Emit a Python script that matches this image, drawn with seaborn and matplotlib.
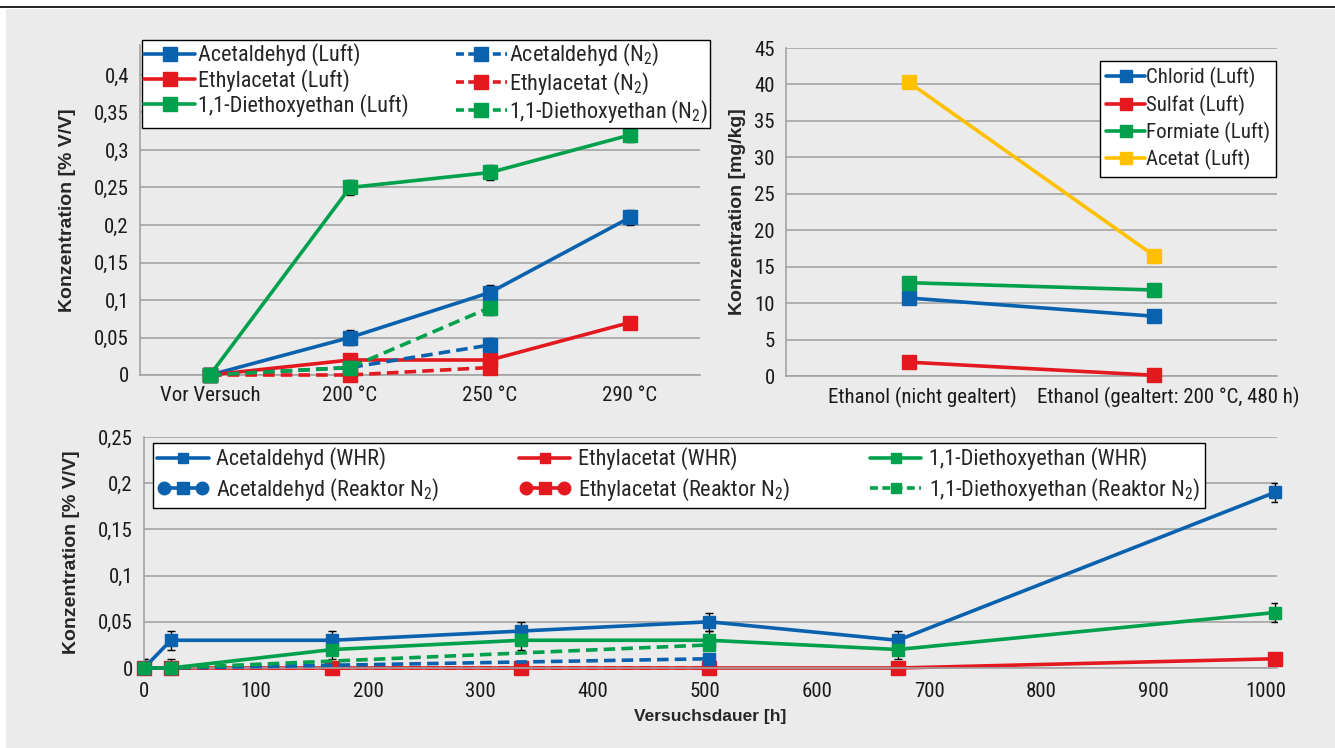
import numpy as np
import seaborn as sns
import matplotlib.pyplot as plt
from matplotlib import font_manager as fm
from matplotlib.lines import Line2D
from matplotlib.patches import Rectangle
from matplotlib.legend_handler import HandlerLine2D, HandlerTuple
from matplotlib.ticker import FuncFormatter, MultipleLocator
from matplotlib.transforms import ScaledTranslation

# --- top left: concentrations per temperature stage ---
stages = ['Vor Versuch', '200 °C', '250 °C', '290 °C']
acet_luft = [0, 0.05, 0.11, 0.21]
ethyl_luft = [0, 0.02, 0.02, 0.07]
diet_luft = [0, 0.25, 0.27, 0.32]
acet_n2 = [0, 0.01, 0.04]
ethyl_n2 = [0, 0.0, 0.01]
diet_n2 = [0, 0.01, 0.09]
err_acet_luft = [0.008, 0.01, 0.01, 0.01]
err_ethyl_luft = [0, 0, 0.01, 0]
err_diet_luft = [0, 0.01, 0.01, 0.01]
err_acet_n2 = [0, 0, 0.01]
err_diet_n2 = [0, 0, 0.01]

# --- top right: anions ---
samples = ['Ethanol (nicht gealtert)', 'Ethanol (gealtert: 200 °C, 480 h)']
chlorid = [10.7, 8.2]
sulfat = [1.9, 0.1]
formiate = [12.8, 11.8]
acetat = [40.3, 16.5]

# --- bottom: time series ---
hours = [0, 24, 168, 336, 504, 672, 1008]
acet_whr = [0, 0.03, 0.03, 0.04, 0.05, 0.03, 0.19]
ethyl_whr = [0, 0, 0, 0, 0, 0, 0.01]
diet_whr = [0, 0, 0.02, 0.03, 0.03, 0.02, 0.06]
err_acet_whr = [0.01, 0.01, 0.01, 0.01, 0.01, 0.01, 0.01]
err_ethyl_whr = [0.01, 0.01, 0, 0, 0, 0, 0]
err_diet_whr = [0, 0, 0.01, 0.01, 0.01, 0.01, 0.01]
hours_n2 = [0, 24, 504]
acet_rn2 = [0, 0, 0.01]
ethyl_rn2 = [0, 0, 0]
diet_rn2 = [0, 0, 0.025]

BLUE = '#0A62AE'
RED = '#E3191F'
GREEN = '#00A04C'
YELLOW = '#FFC000'
BG = '#EBEBEB'
GRID = '#A3A3A3'

sns.set_theme(style='whitegrid')

# pick a narrow font if one is there
have = {f.name for f in fm.fontManager.ttflist}
narrow = [n for n in ['Liberation Sans Narrow', 'Roboto Condensed', 'Archivo Narrow',
                      'Barlow Semi Condensed'] if n in have]
NARROW = narrow[:1] + ['DejaVu Sans']
BOLD = ['Liberation Sans', 'DejaVu Sans']
plt.rcParams['font.family'] = NARROW
plt.rcParams['mathtext.fontset'] = 'custom'
plt.rcParams['mathtext.rm'] = NARROW[0]
plt.rcParams['mathtext.it'] = NARROW[0]
plt.rcParams['axes.unicode_minus'] = False

W, H = 1335, 748
fig = plt.figure(figsize=(W / 100, H / 100), dpi=100, facecolor='white')
fig.patches.append(Rectangle((6 / W, 0), 1, 1 - 9 / H, transform=fig.transFigure,
                             facecolor=BG, edgecolor='none', zorder=-10))
fig.add_artist(Line2D([0, 1], [1 - 7 / H, 1 - 7 / H], transform=fig.transFigure,
                      color='black', lw=1.2))


def fig_ax(l, r, b, t):
    return fig.add_axes([l / W, 1 - b / H, (r - l) / W, (b - t) / H])


def style_ax(ax):
    ax.set_facecolor('none')
    ax.grid(True, axis='y', color=GRID, lw=1.2)
    ax.grid(False, axis='x')
    for s in ['top', 'right']:
        ax.spines[s].set_visible(False)
    for s in ['left', 'bottom']:
        ax.spines[s].set_color(GRID)
        ax.spines[s].set_linewidth(1.2)
    ax.tick_params(axis='both', which='both', colors=GRID, labelcolor='#1a1a1a',
                   labelsize=15, width=1.2)
    ax.tick_params(axis='y', length=5, pad=3)
    ax.set_axisbelow(True)


def comma(v, pos):
    return f'{v:g}'.replace('.', ',')


def draw(ax, x, y, color, dashed=False, ms=10, z=3):
    sns.lineplot(x=x, y=y, ax=ax, color=color, marker='s', markersize=ms,
                 markeredgecolor=color, markeredgewidth=1, linewidth=2.6,
                 linestyle=(0, (3.2, 1.7)) if dashed else '-', legend=False,
                 clip_on=False, zorder=z)


def errbars(ax, x, y, e):
    x = np.asarray(x, float)
    y = np.asarray(y, float)
    e = np.asarray(e, float)
    m = e > 0
    ax.errorbar(x[m], y[m], yerr=e[m], fmt='none', ecolor='black', elinewidth=1,
                capsize=3, capthick=1, zorder=2)


def handle(color, dashed=False, ms=10):
    return Line2D([], [], color=color, marker='s', markersize=ms, markeredgecolor=color,
                  lw=2.6, linestyle=(0, (2.2, 1.2)) if dashed else '-')


legend_kw = dict(frameon=True, fancybox=False, framealpha=1, edgecolor='black',
                 facecolor='white', borderaxespad=0)

# ---------------- top left ----------------
ax1 = fig_ax(140, 700, 375, 45)
style_ax(ax1)
pos = np.arange(len(stages))
pos_n2 = pos[:3]
draw(ax1, pos, acet_luft, BLUE)
draw(ax1, pos, ethyl_luft, RED)
draw(ax1, pos, diet_luft, GREEN)
draw(ax1, pos_n2, acet_n2, BLUE, dashed=True)
draw(ax1, pos_n2, ethyl_n2, RED, dashed=True)
draw(ax1, pos_n2, diet_n2, GREEN, dashed=True)
errbars(ax1, pos, acet_luft, err_acet_luft)
errbars(ax1, pos, ethyl_luft, err_ethyl_luft)
errbars(ax1, pos, diet_luft, err_diet_luft)
errbars(ax1, pos_n2, acet_n2, err_acet_n2)
errbars(ax1, pos_n2, diet_n2, err_diet_n2)
ax1.set_xlim(-0.5, len(stages) - 0.5)
ax1.set_ylim(0, 0.44)
ax1.set_yticks(np.arange(0, 0.41, 0.05))
ax1.yaxis.set_major_formatter(FuncFormatter(comma))
ax1.set_xticks(pos, labels=stages)
ax1.set_xticks(np.arange(-0.5, len(stages), 1), minor=True)
ax1.tick_params(axis='x', which='major', length=0, pad=8)
ax1.tick_params(axis='x', which='minor', length=5)
ax1.set_xlabel('')
ax1.set_ylabel('Konzentration [% V/V]', family=BOLD, fontweight='bold',
               fontsize=14, labelpad=13)

h1 = [handle(BLUE), handle(RED), handle(GREEN),
      handle(BLUE, True), handle(RED, True), handle(GREEN, True)]
l1 = ['Acetaldehyd (Luft)', 'Ethylacetat (Luft)', '1,1-Diethoxyethan (Luft)',
      'Acetaldehyd (N$_2$)', 'Ethylacetat (N$_2$)', '1,1-Diethoxyethan (N$_2$)']
fig.legend(h1, l1, ncol=2, loc='upper left', mode='expand',
           bbox_to_anchor=(142 / W, 1 - 40 / H, (710 - 142) / W, 0.0),
           handlelength=2.3, handletextpad=0.1, labelspacing=0.1, borderpad=0.1,
           fontsize=16, **legend_kw)

# ---------------- top right ----------------
ax2 = fig_ax(786, 1277, 376, 48)
style_ax(ax2)
pos2 = np.arange(len(samples))
draw(ax2, pos2, chlorid, BLUE, ms=9.5)
draw(ax2, pos2, sulfat, RED, ms=9.5)
draw(ax2, pos2, formiate, GREEN, ms=9.5)
draw(ax2, pos2, acetat, YELLOW, ms=9.5)
ax2.set_xlim(-0.5, len(samples) - 0.5)
ax2.set_ylim(0, 45)
ax2.yaxis.set_major_locator(MultipleLocator(5))
ax2.set_xticks(pos2, labels=samples)
ax2.set_xticks(np.arange(-0.5, len(samples), 1), minor=True)
ax2.tick_params(axis='x', which='major', length=0, pad=8)
ax2.tick_params(axis='x', which='minor', length=5)
for lab in ax2.get_xticklabels():
    lab.set_transform(lab.get_transform() + ScaledTranslation(0.14, 0, fig.dpi_scale_trans))
ax2.set_ylabel('Konzentration [mg/kg]', family=BOLD, fontweight='bold',
               fontsize=14, labelpad=6)

h2 = [handle(BLUE, ms=9), handle(RED, ms=9), handle(GREEN, ms=9), handle(YELLOW, ms=9)]
l2 = ['Chlorid (Luft)', 'Sulfat (Luft)', 'Formiate (Luft)', 'Acetat (Luft)']
fig.legend(h2, l2, loc='upper left', bbox_to_anchor=(1100 / W, 1 - 61 / H),
           handlelength=1.85, handletextpad=0.05, labelspacing=0.3, borderpad=0.3,
           fontsize=15, **legend_kw)

# ---------------- bottom ----------------
ax3 = fig_ax(144, 1277, 668, 437)
style_ax(ax3)
draw(ax3, hours, acet_whr, BLUE, ms=8.5)
draw(ax3, hours, ethyl_whr, RED, ms=9.5, z=2.5)
draw(ax3, hours, diet_whr, GREEN, ms=8.5)
draw(ax3, hours_n2, acet_rn2, BLUE, dashed=True, ms=8)
draw(ax3, hours_n2, ethyl_rn2, RED, dashed=True, ms=8, z=2.4)
draw(ax3, hours_n2, diet_rn2, GREEN, dashed=True, ms=8)
errbars(ax3, hours, acet_whr, err_acet_whr)
errbars(ax3, hours, ethyl_whr, err_ethyl_whr)
errbars(ax3, hours, diet_whr, err_diet_whr)
ax3.set_xlim(0, 1010)
ax3.set_ylim(0, 0.25)
ax3.xaxis.set_major_locator(MultipleLocator(100))
ax3.yaxis.set_major_locator(MultipleLocator(0.05))
ax3.yaxis.set_major_formatter(FuncFormatter(comma))
ax3.tick_params(axis='x', length=5, pad=5)
ax3.set_xlabel('Versuchsdauer [h]', family=BOLD, fontweight='bold',
               fontsize=12.5, labelpad=6)
ax3.set_ylabel('Konzentration [% V/V]', family=BOLD, fontweight='bold',
               fontsize=14, labelpad=13)


def dotted_handle(color):
    ends = Line2D([], [], color=color, marker='o', markersize=9, lw=2.6)
    mid = Line2D([], [], color=color, marker='s', markersize=8, lw=0)
    return ends, mid


a_ends, a_mid = dotted_handle(BLUE)
e_ends, e_mid = dotted_handle(RED)
h3 = [handle(BLUE, ms=7), (a_ends, a_mid), handle(RED, ms=7), (e_ends, e_mid),
      handle(GREEN, ms=7), handle(GREEN, True, ms=7)]
l3 = ['Acetaldehyd (WHR)', 'Acetaldehyd (Reaktor N$_2$)',
      'Ethylacetat (WHR)', 'Ethylacetat (Reaktor N$_2$)',
      '1,1-Diethoxyethan (WHR)', '1,1-Diethoxyethan (Reaktor N$_2$)']
hmap = {a_ends: HandlerLine2D(numpoints=2), e_ends: HandlerLine2D(numpoints=2),
        tuple: HandlerTuple(ndivide=1)}
fig.legend(h3, l3, ncol=3, loc='upper left', mode='expand',
           bbox_to_anchor=(153 / W, 1 - 443 / H, (1205 - 153) / W, 0.0),
           handler_map=hmap, handlelength=2.3, handletextpad=0.35, labelspacing=0.3,
           borderpad=0.2, fontsize=16, **legend_kw)

fig.savefig('out.png', dpi=100, facecolor=fig.get_facecolor())
